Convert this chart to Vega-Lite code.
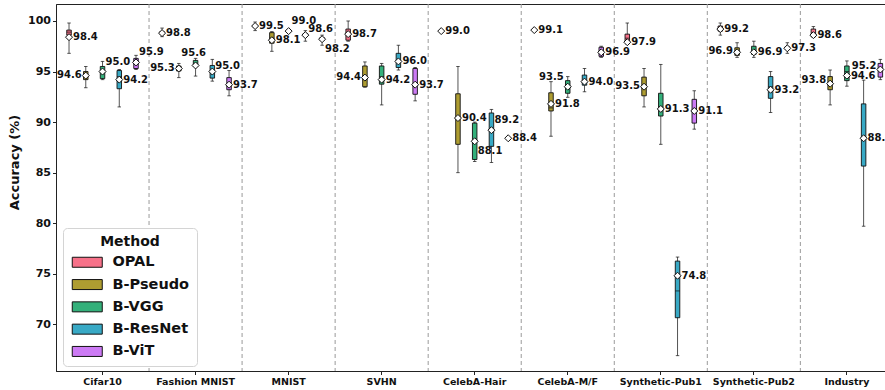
{
  "$schema": "https://vega.github.io/schema/vega-lite/v6.json",
  "width": 829,
  "height": 367,
  "autosize": {"type": "none"},
  "padding": {"left": 56, "top": 4, "right": 0, "bottom": 19},
  "background": "white",
  "config": {
    "font": "DejaVu Sans",
    "view": {"stroke": "#222", "strokeWidth": 1},
    "axis": {
      "labelFont": "DejaVu Sans",
      "titleFont": "DejaVu Sans",
      "labelFontWeight": "bold",
      "titleFontWeight": "bold",
      "labelColor": "#111",
      "titleColor": "#111",
      "domainColor": "#222",
      "tickColor": "#222",
      "grid": false
    }
  },
  "data": {
    "values": [
      {"dataset": "Cifar10", "method": "OPAL", "min": 96.8, "q1": 98.6, "median": 98.9, "q3": 99.1, "max": 99.8, "mean": 98.4},
      {"dataset": "Cifar10", "method": "B-Pseudo", "min": 93.4, "q1": 94.2, "median": 94.6, "q3": 95.0, "max": 95.5, "mean": 94.6},
      {"dataset": "Cifar10", "method": "B-VGG", "min": 94.2, "q1": 94.3, "median": 95.0, "q3": 95.5, "max": 96.0, "mean": 95.0},
      {"dataset": "Cifar10", "method": "B-ResNet", "min": 91.5, "q1": 93.3, "median": 94.5, "q3": 95.1, "max": 95.2, "mean": 94.2},
      {"dataset": "Cifar10", "method": "B-ViT", "min": 95.2, "q1": 95.3, "median": 95.9, "q3": 96.3, "max": 96.6, "mean": 95.9},

      {"dataset": "Fashion MNIST", "method": "OPAL", "min": 98.45, "q1": 98.7, "median": 98.8, "q3": 98.95, "max": 99.3, "mean": 98.8},
      {"dataset": "Fashion MNIST", "method": "B-Pseudo", "min": 94.4, "q1": 95.05, "median": 95.3, "q3": 95.55, "max": 95.8, "mean": 95.3},
      {"dataset": "Fashion MNIST", "method": "B-VGG", "min": 94.55, "q1": 95.5, "median": 95.8, "q3": 96.1, "max": 96.3, "mean": 95.6},
      {"dataset": "Fashion MNIST", "method": "B-ResNet", "min": 94.05, "q1": 94.35, "median": 95.0, "q3": 95.6, "max": 96.2, "mean": 95.0},
      {"dataset": "Fashion MNIST", "method": "B-ViT", "min": 92.6, "q1": 93.2, "median": 93.7, "q3": 94.4, "max": 95.1, "mean": 93.7},

      {"dataset": "MNIST", "method": "OPAL", "min": 99.05, "q1": 99.4, "median": 99.5, "q3": 99.6, "max": 99.9, "mean": 99.5},
      {"dataset": "MNIST", "method": "B-Pseudo", "min": 97.0, "q1": 97.8, "median": 98.3, "q3": 98.85, "max": 98.95, "mean": 98.1},
      {"dataset": "MNIST", "method": "B-VGG", "min": 98.9, "q1": 98.95, "median": 99.0, "q3": 99.05, "max": 99.1, "mean": 99.0},
      {"dataset": "MNIST", "method": "B-ResNet", "min": 98.0, "q1": 98.5, "median": 98.6, "q3": 98.75, "max": 99.05, "mean": 98.6},
      {"dataset": "MNIST", "method": "B-ViT", "min": 97.6, "q1": 98.1, "median": 98.2, "q3": 98.35, "max": 98.6, "mean": 98.2},

      {"dataset": "SVHN", "method": "OPAL", "min": 98.0, "q1": 98.1, "median": 98.8, "q3": 99.2, "max": 100.0, "mean": 98.7},
      {"dataset": "SVHN", "method": "B-Pseudo", "min": 93.45, "q1": 93.5, "median": 94.5, "q3": 95.55, "max": 95.95, "mean": 94.4},
      {"dataset": "SVHN", "method": "B-VGG", "min": 91.7, "q1": 93.75, "median": 94.5, "q3": 95.55, "max": 95.8, "mean": 94.2},
      {"dataset": "SVHN", "method": "B-ResNet", "min": 95.15, "q1": 95.4, "median": 96.0, "q3": 96.8, "max": 97.6, "mean": 96.0},
      {"dataset": "SVHN", "method": "B-ViT", "min": 92.1, "q1": 92.75, "median": 93.7, "q3": 95.3, "max": 95.4, "mean": 93.7},

      {"dataset": "CelebA-Hair", "method": "OPAL", "min": 98.9, "q1": 98.95, "median": 99.0, "q3": 99.05, "max": 99.1, "mean": 99.0},
      {"dataset": "CelebA-Hair", "method": "B-Pseudo", "min": 85.0, "q1": 87.8, "median": 90.5, "q3": 92.8, "max": 95.5, "mean": 90.4},
      {"dataset": "CelebA-Hair", "method": "B-VGG", "min": 86.1, "q1": 86.3, "median": 88.0, "q3": 89.9, "max": 90.0, "mean": 88.1},
      {"dataset": "CelebA-Hair", "method": "B-ResNet", "min": 86.0, "q1": 87.6, "median": 89.2, "q3": 90.9, "max": 91.25, "mean": 89.2},
      {"dataset": "CelebA-Hair", "method": "B-ViT", "min": 88.3, "q1": 88.35, "median": 88.4, "q3": 88.45, "max": 88.5, "mean": 88.4},

      {"dataset": "CelebA-M/F", "method": "OPAL", "min": 99.0, "q1": 99.05, "median": 99.1, "q3": 99.15, "max": 99.2, "mean": 99.1},
      {"dataset": "CelebA-M/F", "method": "B-Pseudo", "min": 88.6, "q1": 91.1, "median": 91.4, "q3": 92.9, "max": 94.0, "mean": 91.8},
      {"dataset": "CelebA-M/F", "method": "B-VGG", "min": 92.45, "q1": 92.85, "median": 93.5, "q3": 94.1, "max": 94.5, "mean": 93.5},
      {"dataset": "CelebA-M/F", "method": "B-ResNet", "min": 93.0, "q1": 93.65, "median": 94.1, "q3": 94.65, "max": 95.3, "mean": 94.0},
      {"dataset": "CelebA-M/F", "method": "B-ViT", "min": 96.4, "q1": 96.5, "median": 96.9, "q3": 97.4, "max": 97.5, "mean": 96.9},

      {"dataset": "Synthetic-Pub1", "method": "OPAL", "min": 97.7, "q1": 97.95, "median": 98.3, "q3": 98.7, "max": 99.8, "mean": 97.9},
      {"dataset": "Synthetic-Pub1", "method": "B-Pseudo", "min": 91.5, "q1": 92.6, "median": 93.5, "q3": 94.45, "max": 95.3, "mean": 93.5},
      {"dataset": "Synthetic-Pub1", "method": "B-VGG", "min": 87.8, "q1": 90.6, "median": 91.5, "q3": 92.85, "max": 95.7, "mean": 91.3},
      {"dataset": "Synthetic-Pub1", "method": "B-ResNet", "min": 66.9, "q1": 70.65, "median": 73.3, "q3": 76.25, "max": 76.65, "mean": 74.8},
      {"dataset": "Synthetic-Pub1", "method": "B-ViT", "min": 89.3, "q1": 89.9, "median": 91.1, "q3": 92.25, "max": 93.1, "mean": 91.1},

      {"dataset": "Synthetic-Pub2", "method": "OPAL", "min": 98.6, "q1": 99.0, "median": 99.25, "q3": 99.5, "max": 99.8, "mean": 99.2},
      {"dataset": "Synthetic-Pub2", "method": "B-Pseudo", "min": 96.4, "q1": 96.6, "median": 96.9, "q3": 97.35, "max": 97.85, "mean": 96.9},
      {"dataset": "Synthetic-Pub2", "method": "B-VGG", "min": 96.4, "q1": 96.7, "median": 97.0, "q3": 97.5, "max": 98.0, "mean": 96.9},
      {"dataset": "Synthetic-Pub2", "method": "B-ResNet", "min": 90.95, "q1": 92.35, "median": 93.5, "q3": 94.5, "max": 95.0, "mean": 93.2},
      {"dataset": "Synthetic-Pub2", "method": "B-ViT", "min": 96.8, "q1": 97.2, "median": 97.3, "q3": 97.45, "max": 97.85, "mean": 97.3},

      {"dataset": "Industry", "method": "OPAL", "min": 98.4, "q1": 98.45, "median": 98.8, "q3": 99.2, "max": 99.45, "mean": 98.6},
      {"dataset": "Industry", "method": "B-Pseudo", "min": 91.7, "q1": 93.2, "median": 93.8, "q3": 94.5, "max": 95.15, "mean": 93.8},
      {"dataset": "Industry", "method": "B-VGG", "min": 93.55, "q1": 94.1, "median": 95.0, "q3": 95.55, "max": 96.05, "mean": 94.6},
      {"dataset": "Industry", "method": "B-ResNet", "min": 79.7, "q1": 85.65, "median": 88.5, "q3": 91.8, "max": 94.15, "mean": 88.4},
      {"dataset": "Industry", "method": "B-ViT", "min": 94.2, "q1": 94.45, "median": 95.3, "q3": 95.8, "max": 96.2, "mean": 95.2}
    ]
  },
  "encoding": {
    "x": {
      "field": "dataset",
      "type": "nominal",
      "sort": ["Cifar10", "Fashion MNIST", "MNIST", "SVHN", "CelebA-Hair", "CelebA-M/F", "Synthetic-Pub1", "Synthetic-Pub2", "Industry"],
      "scale": {"range": [0, 837.4], "paddingInner": 0, "paddingOuter": 0},
      "axis": {"title": null, "labelAngle": 0, "labelFontSize": 9.5, "tickSize": 3.5, "labelPadding": 2, "labelBaseline": "top"}
    }
  },
  "layer": [
    {
      "transform": [{"filter": "datum.method === 'OPAL' && datum.dataset !== 'Cifar10'"}],
      "mark": {"type": "rule", "color": "#9a9a9a", "strokeWidth": 1, "strokeDash": [4, 3]},
      "encoding": {
        "x": {
          "field": "dataset",
          "type": "nominal",
          "bandPosition": 0,
          "sort": ["Cifar10", "Fashion MNIST", "MNIST", "SVHN", "CelebA-Hair", "CelebA-M/F", "Synthetic-Pub1", "Synthetic-Pub2", "Industry"],
          "scale": {"range": [0, 837.4], "paddingInner": 0, "paddingOuter": 0},
          "axis": {"title": null, "labelAngle": 0, "labelFontSize": 9.5, "tickSize": 3.5, "labelPadding": 2, "labelBaseline": "top"}
        }
      }
    },
    {
      "mark": {"type": "rule", "color": "#555555", "strokeWidth": 1},
      "encoding": {
        "xOffset": {"field": "method", "type": "nominal", "sort": ["OPAL", "B-Pseudo", "B-VGG", "B-ResNet", "B-ViT"], "scale": {"paddingInner": 0, "paddingOuter": 0.278}},
        "y": {"field": "min", "type": "quantitative", "scale": {"domain": [65.38, 101.68], "nice": false, "zero": false},
              "axis": {"title": "Accuracy (%)", "values": [70, 75, 80, 85, 90, 95, 100], "labelFontSize": 11, "titleFontSize": 13, "tickSize": 3.5, "labelPadding": 2, "titlePadding": 6, "titleY": 158}},
        "y2": {"field": "max"}
      }
    },
    {
      "mark": {"type": "tick", "color": "#111", "size": 3.5, "thickness": 1},
      "encoding": {
        "xOffset": {"field": "method", "type": "nominal", "sort": ["OPAL", "B-Pseudo", "B-VGG", "B-ResNet", "B-ViT"], "scale": {"paddingInner": 0, "paddingOuter": 0.278}},
        "y": {"field": "min", "type": "quantitative", "scale": {"domain": [65.38, 101.68], "nice": false, "zero": false}}
      }
    },
    {
      "mark": {"type": "tick", "color": "#111", "size": 3.5, "thickness": 1},
      "encoding": {
        "xOffset": {"field": "method", "type": "nominal", "sort": ["OPAL", "B-Pseudo", "B-VGG", "B-ResNet", "B-ViT"], "scale": {"paddingInner": 0, "paddingOuter": 0.278}},
        "y": {"field": "max", "type": "quantitative", "scale": {"domain": [65.38, 101.68], "nice": false, "zero": false}}
      }
    },
    {
      "mark": {"type": "bar", "width": 4.5, "stroke": "#111", "strokeWidth": 0.9},
      "encoding": {
        "xOffset": {"field": "method", "type": "nominal", "sort": ["OPAL", "B-Pseudo", "B-VGG", "B-ResNet", "B-ViT"], "scale": {"paddingInner": 0, "paddingOuter": 0.278}},
        "y": {"field": "q1", "type": "quantitative", "scale": {"domain": [65.38, 101.68], "nice": false, "zero": false}},
        "y2": {"field": "q3"},
        "color": {
          "field": "method",
          "type": "nominal",
          "sort": ["OPAL", "B-Pseudo", "B-VGG", "B-ResNet", "B-ViT"],
          "scale": {"domain": ["OPAL", "B-Pseudo", "B-VGG", "B-ResNet", "B-ViT"], "range": ["#f77189", "#ae9d31", "#33b07a", "#38a9c5", "#cc7af4"]},
          "legend": {
            "title": "Method",
            "orient": "none",
            "legendX": 7,
            "legendY": 224,
            "direction": "vertical",
            "symbolType": "M-1,-1H5V1H-1Z",
            "symbolSize": 100,
            "symbolStrokeColor": "#111",
            "symbolStrokeWidth": 1,
            "symbolOpacity": 1,
            "labelFont": "DejaVu Sans",
            "labelFontSize": 14.5,
            "labelFontWeight": "bold",
            "labelColor": "#111",
            "labelOffset": 28,
            "titleFont": "DejaVu Sans",
            "titleFontSize": 14,
            "titleFontWeight": "bold",
            "titleColor": "#111",
            "titleAnchor": "middle",
            "titlePadding": 6,
            "rowPadding": 6.3,
            "padding": 7,
            "strokeColor": "#d4d4d4",
            "fillColor": "white",
            "cornerRadius": 4
          }
        }
      }
    },
    {
      "mark": {"type": "tick", "color": "#111", "size": 4.5, "thickness": 1},
      "encoding": {
        "xOffset": {"field": "method", "type": "nominal", "sort": ["OPAL", "B-Pseudo", "B-VGG", "B-ResNet", "B-ViT"], "scale": {"paddingInner": 0, "paddingOuter": 0.278}},
        "y": {"field": "median", "type": "quantitative", "scale": {"domain": [65.38, 101.68], "nice": false, "zero": false}}
      }
    },
    {
      "mark": {"type": "point", "shape": "diamond", "size": 49, "filled": true, "fill": "white", "stroke": "#111", "strokeWidth": 1, "opacity": 1},
      "encoding": {
        "xOffset": {"field": "method", "type": "nominal", "sort": ["OPAL", "B-Pseudo", "B-VGG", "B-ResNet", "B-ViT"], "scale": {"paddingInner": 0, "paddingOuter": 0.278}},
        "y": {"field": "mean", "type": "quantitative", "scale": {"domain": [65.38, 101.68], "nice": false, "zero": false}}
      }
    },
    {
      "transform": [{"filter": "indexof(['Cifar10|B-VGG','Cifar10|B-ViT','MNIST|B-VGG','CelebA-Hair|B-ResNet','MNIST|B-ResNet','Fashion MNIST|B-ResNet','MNIST|B-ViT','CelebA-Hair|B-VGG','Cifar10|B-Pseudo','Fashion MNIST|B-Pseudo','SVHN|B-Pseudo','Synthetic-Pub1|B-Pseudo','Synthetic-Pub2|B-Pseudo','Industry|B-Pseudo','Industry|B-ViT','CelebA-M/F|B-VGG','Fashion MNIST|B-VGG'], datum.dataset + '|' + datum.method) < 0"}],
      "mark": {"type": "text", "align": "left", "baseline": "middle", "dx": 4, "fontSize": 10, "fontWeight": "bold", "color": "#111"},
      "encoding": {
        "xOffset": {"field": "method", "type": "nominal", "sort": ["OPAL", "B-Pseudo", "B-VGG", "B-ResNet", "B-ViT"], "scale": {"paddingInner": 0, "paddingOuter": 0.278}},
        "y": {"field": "mean", "type": "quantitative", "scale": {"domain": [65.38, 101.68], "nice": false, "zero": false}},
        "text": {"field": "mean", "type": "quantitative", "format": ".1f"}
      }
    },
    {
      "transform": [{"filter": "indexof(['Cifar10|B-VGG','Cifar10|B-ViT','MNIST|B-VGG','CelebA-Hair|B-ResNet'], datum.dataset + '|' + datum.method) >= 0"}],
      "mark": {"type": "text", "align": "left", "baseline": "middle", "dx": 3, "dy": -10, "fontSize": 10, "fontWeight": "bold", "color": "#111"},
      "encoding": {
        "xOffset": {"field": "method", "type": "nominal", "sort": ["OPAL", "B-Pseudo", "B-VGG", "B-ResNet", "B-ViT"], "scale": {"paddingInner": 0, "paddingOuter": 0.278}},
        "y": {"field": "mean", "type": "quantitative", "scale": {"domain": [65.38, 101.68], "nice": false, "zero": false}},
        "text": {"field": "mean", "type": "quantitative", "format": ".1f"}
      }
    },
    {
      "transform": [{"filter": "indexof(['MNIST|B-ResNet','Fashion MNIST|B-ResNet'], datum.dataset + '|' + datum.method) >= 0"}],
      "mark": {"type": "text", "align": "left", "baseline": "middle", "dx": 3, "dy": -6, "fontSize": 10, "fontWeight": "bold", "color": "#111"},
      "encoding": {
        "xOffset": {"field": "method", "type": "nominal", "sort": ["OPAL", "B-Pseudo", "B-VGG", "B-ResNet", "B-ViT"], "scale": {"paddingInner": 0, "paddingOuter": 0.278}},
        "y": {"field": "mean", "type": "quantitative", "scale": {"domain": [65.38, 101.68], "nice": false, "zero": false}},
        "text": {"field": "mean", "type": "quantitative", "format": ".1f"}
      }
    },
    {
      "transform": [{"filter": "indexof(['MNIST|B-ViT','CelebA-Hair|B-VGG'], datum.dataset + '|' + datum.method) >= 0"}],
      "mark": {"type": "text", "align": "left", "baseline": "middle", "dx": 3, "dy": 10, "fontSize": 10, "fontWeight": "bold", "color": "#111"},
      "encoding": {
        "xOffset": {"field": "method", "type": "nominal", "sort": ["OPAL", "B-Pseudo", "B-VGG", "B-ResNet", "B-ViT"], "scale": {"paddingInner": 0, "paddingOuter": 0.278}},
        "y": {"field": "mean", "type": "quantitative", "scale": {"domain": [65.38, 101.68], "nice": false, "zero": false}},
        "text": {"field": "mean", "type": "quantitative", "format": ".1f"}
      }
    },
    {
      "transform": [{"filter": "indexof(['Cifar10|B-Pseudo','Fashion MNIST|B-Pseudo','SVHN|B-Pseudo','Synthetic-Pub1|B-Pseudo','Synthetic-Pub2|B-Pseudo'], datum.dataset + '|' + datum.method) >= 0"}],
      "mark": {"type": "text", "align": "right", "baseline": "middle", "dx": -4, "dy": -1, "fontSize": 10, "fontWeight": "bold", "color": "#111"},
      "encoding": {
        "xOffset": {"field": "method", "type": "nominal", "sort": ["OPAL", "B-Pseudo", "B-VGG", "B-ResNet", "B-ViT"], "scale": {"paddingInner": 0, "paddingOuter": 0.278}},
        "y": {"field": "mean", "type": "quantitative", "scale": {"domain": [65.38, 101.68], "nice": false, "zero": false}},
        "text": {"field": "mean", "type": "quantitative", "format": ".1f"}
      }
    },
    {
      "transform": [{"filter": "indexof(['Industry|B-Pseudo','Industry|B-ViT'], datum.dataset + '|' + datum.method) >= 0"}],
      "mark": {"type": "text", "align": "right", "baseline": "middle", "dx": -4, "dy": -4, "fontSize": 10, "fontWeight": "bold", "color": "#111"},
      "encoding": {
        "xOffset": {"field": "method", "type": "nominal", "sort": ["OPAL", "B-Pseudo", "B-VGG", "B-ResNet", "B-ViT"], "scale": {"paddingInner": 0, "paddingOuter": 0.278}},
        "y": {"field": "mean", "type": "quantitative", "scale": {"domain": [65.38, 101.68], "nice": false, "zero": false}},
        "text": {"field": "mean", "type": "quantitative", "format": ".1f"}
      }
    },
    {
      "transform": [{"filter": "datum.dataset === 'CelebA-M/F' && datum.method === 'B-VGG'"}],
      "mark": {"type": "text", "align": "right", "baseline": "middle", "dx": -4, "dy": -10, "fontSize": 10, "fontWeight": "bold", "color": "#111"},
      "encoding": {
        "xOffset": {"field": "method", "type": "nominal", "sort": ["OPAL", "B-Pseudo", "B-VGG", "B-ResNet", "B-ViT"], "scale": {"paddingInner": 0, "paddingOuter": 0.278}},
        "y": {"field": "mean", "type": "quantitative", "scale": {"domain": [65.38, 101.68], "nice": false, "zero": false}},
        "text": {"field": "mean", "type": "quantitative", "format": ".1f"}
      }
    },
    {
      "transform": [{"filter": "datum.dataset === 'Fashion MNIST' && datum.method === 'B-VGG'"}],
      "mark": {"type": "text", "align": "center", "baseline": "middle", "dx": -2, "dy": -12, "fontSize": 10, "fontWeight": "bold", "color": "#111"},
      "encoding": {
        "xOffset": {"field": "method", "type": "nominal", "sort": ["OPAL", "B-Pseudo", "B-VGG", "B-ResNet", "B-ViT"], "scale": {"paddingInner": 0, "paddingOuter": 0.278}},
        "y": {"field": "mean", "type": "quantitative", "scale": {"domain": [65.38, 101.68], "nice": false, "zero": false}},
        "text": {"field": "mean", "type": "quantitative", "format": ".1f"}
      }
    }
  ]
}
